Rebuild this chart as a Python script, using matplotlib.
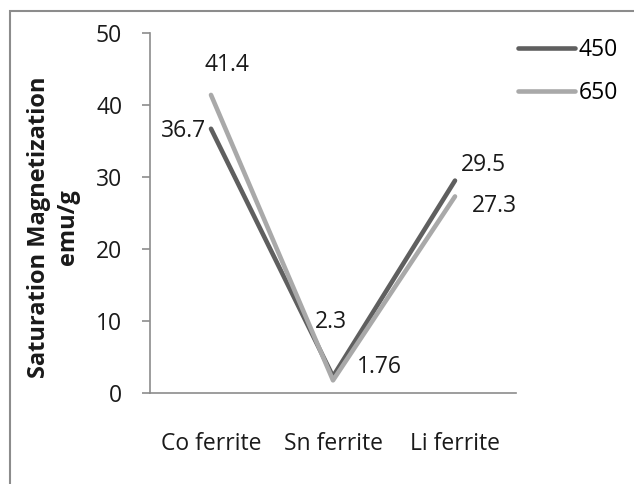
import matplotlib.pyplot as plt
from matplotlib.patches import Rectangle

plt.rcParams['font.family'] = ['Open Sans', 'DejaVu Sans']

categories = ['Co ferrite', 'Sn ferrite', 'Li ferrite']
s450 = [36.7, 2.3, 29.5]
s650 = [41.4, 1.76, 27.3]
lab450 = ['36.7', '2.3', '29.5']
lab650 = ['41.4', '1.76', '27.3']

FS = 16.5

fig = plt.figure(figsize=(6.34, 4.84), dpi=100)
fig.patches.append(Rectangle((10 / 634, -0.1), 1.2, 1 - 11 / 484 + 0.1,
                             transform=fig.transFigure, fill=False,
                             edgecolor='#8c8c8c', linewidth=1.5))
ax = fig.add_axes([150 / 634, 1 - 393 / 484, 366 / 634, 360 / 484])

x = [0.5, 1.5, 2.5]
ax.plot(x, s450, color='#5f5f5f', lw=3.3, label='450', solid_capstyle='round')
ax.plot(x, s650, color='#a9a9a9', lw=3.3, label='650', solid_capstyle='round')

# data label offsets in pixels (x right, y up)
off450 = [(-27, -2), (-2, 54), (28, 16)]
off650 = [(16, 30), (46, 13), (39, -10)]
for xi, v, t, o in zip(x, s450, lab450, off450):
    ax.annotate(t, (xi, v), xytext=(o[0] * 0.72, o[1] * 0.72), textcoords='offset points',
                ha='center', va='center', fontsize=FS, color='#1a1a1a')
for xi, v, t, o in zip(x, s650, lab650, off650):
    ax.annotate(t, (xi, v), xytext=(o[0] * 0.72, o[1] * 0.72), textcoords='offset points',
                ha='center', va='center', fontsize=FS, color='#1a1a1a')

ax.set_xlim(0, 3)
ax.set_ylim(0, 50)
ax.set_xticks(x)
ax.set_xticklabels(categories, fontsize=FS, color='#1a1a1a')
ax.set_yticks([0, 10, 20, 30, 40, 50])
ax.tick_params(axis='y', labelsize=FS, labelcolor='#1a1a1a', length=6, width=1.2,
               color='#8c8c8c', pad=14)
ax.tick_params(axis='x', length=0, pad=28)
for s in ['top', 'right']:
    ax.spines[s].set_visible(False)
for s in ['left', 'bottom']:
    ax.spines[s].set_color('#8c8c8c')
    ax.spines[s].set_linewidth(1.2)
ax.set_ylabel('Saturation Magnetization\nemu/g', fontsize=17, fontweight='bold',
              color='#1a1a1a', linespacing=1.3)
ax.yaxis.set_label_coords(-0.19, 0.46)

ax.legend(loc='upper left', bbox_to_anchor=(497 / 634, 1 - 17 / 484),
          bbox_transform=fig.transFigure, frameon=False, fontsize=FS,
          handlelength=2.5, handletextpad=0.15, labelspacing=0.85)

fig.savefig('out.png', dpi=100)
